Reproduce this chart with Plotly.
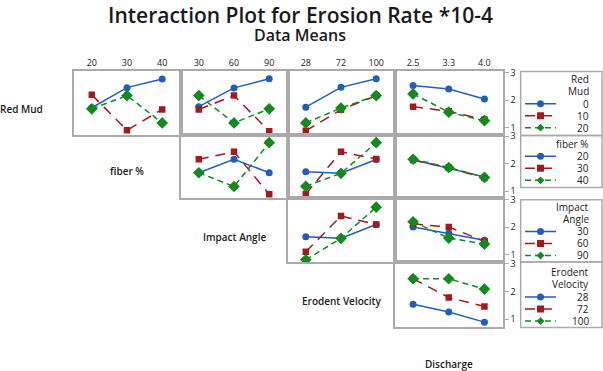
import plotly.graph_objects as go

W, H = 603, 371

# --- factors and levels ---
factors = ['Red Mud', 'fiber %', 'Impact Angle', 'Erodent Velocity', 'Discharge']
legend_titles = [['Red', 'Mud'], ['fiber %'], ['Impact', 'Angle'], ['Erodent', 'Velocity']]
redmud_levels = ['0', '10', '20']
fiber_levels = ['20', '30', '40']
angle_levels = ['30', '60', '90']
velocity_levels = ['28', '72', '100']
discharge_levels = ['2.5', '3.3', '4.0']

# --- means (one list per trace level, values along x factor levels) ---
rm_vs_fiber = [[1.72, 2.45, 2.76], [2.19, 0.90, 1.66], [1.68, 2.16, 1.17]]
rm_vs_angle = [[1.76, 2.44, 2.77], [1.66, 2.16, 0.87], [2.16, 1.17, 1.68]]
rm_vs_velocity = [[1.74, 2.46, 2.77], [0.88, 1.65, 2.16], [1.17, 1.71, 2.16]]
rm_vs_discharge = [[2.53, 2.40, 2.04], [1.76, 1.59, 1.29], [2.22, 1.56, 1.25]]
fiber_vs_angle = [[1.67, 2.16, 1.67], [2.16, 2.43, 0.89], [1.67, 1.17, 2.76]]
fiber_vs_velocity = [[1.71, 1.65, 2.15], [0.90, 2.43, 2.17], [1.18, 1.65, 2.76]]
fiber_vs_discharge = [[2.14, 1.83, 1.52], [2.13, 1.85, 1.48], [2.16, 1.86, 1.50]]
angle_vs_velocity = [[1.66, 1.60, 2.10], [1.11, 2.41, 2.10], [0.82, 1.60, 2.73]]
angle_vs_discharge = [[2.01, 1.78, 1.53], [2.12, 2.01, 1.49], [2.20, 1.61, 1.39]]
velocity_vs_discharge = [[1.54, 1.26, 0.90], [2.45, 1.78, 1.46], [2.45, 2.45, 2.08]]

yticks = [1, 2, 3]

row_levels = [redmud_levels, fiber_levels, angle_levels, velocity_levels]
col_levels = [fiber_levels, angle_levels, velocity_levels, discharge_levels]
panels = {
    (0, 0): rm_vs_fiber, (0, 1): rm_vs_angle, (0, 2): rm_vs_velocity, (0, 3): rm_vs_discharge,
    (1, 1): fiber_vs_angle, (1, 2): fiber_vs_velocity, (1, 3): fiber_vs_discharge,
    (2, 2): angle_vs_velocity, (2, 3): angle_vs_discharge,
    (3, 3): velocity_vs_discharge,
}

# --- style ---
FONT = 'Open Sans'
TXT = '#1a1a1a'
FRAME = '#aaaaaa'
STYLES = [
    dict(color='#1f5fb8', dash='solid', symbol='circle', size=7, lsize=7),
    dict(color='#a01a1e', dash='10px,7px', symbol='square', size=6.5, lsize=7),
    dict(color='#14891e', dash='6px,4px', symbol='diamond', size=9, lsize=6),
]

# pixel layout
col_edges = [73.5, 180.5, 287.5, 394.5, 503]
row_edges = [67, 131.5, 196, 260.5, 326]
legend_boxes = [(67.3, 132.3, 100), (132.3, 185, 153.3), (197.3, 260.5, 229.5), (260.5, 327, 296)]
leg_x0, leg_x1 = 520.7, 602
leg_step = 12.2


def fx(p):
    return p / W


def fy(p):
    return 1 - p / H


fig = go.Figure()
layout = {}
k = 0
for (r, c), means in panels.items():
    k += 1
    xa, ya = ('x', 'y') if k == 1 else (f'x{k}', f'y{k}')
    for i, lvl in enumerate(row_levels[r]):
        s = STYLES[i]
        fig.add_trace(go.Scatter(
            x=col_levels[c], y=means[i], xaxis=xa, yaxis=ya, mode='lines+markers',
            line=dict(color=s['color'], width=1.5, dash=s['dash']),
            marker=dict(color=s['color'], symbol=s['symbol'], size=s['size']),
            showlegend=False, hoverinfo='x+y'))
    layout['xaxis' if k == 1 else f'xaxis{k}'] = dict(
        domain=[fx(col_edges[c]), fx(col_edges[c + 1])], anchor=ya,
        type='category', range=[-0.52, 2.52], showline=True, mirror=True,
        linecolor=FRAME, linewidth=1.5, showgrid=False, zeroline=False,
        side='top', showticklabels=(r == 0), ticks='',
        tickfont=dict(family=FONT, size=9, color=TXT), fixedrange=True)
    layout['yaxis' if k == 1 else f'yaxis{k}'] = dict(
        domain=[fy(row_edges[r + 1]), fy(row_edges[r])], anchor=xa,
        range=[0.74, 3.05], showline=True, mirror=True, linecolor=FRAME,
        linewidth=1.5, showgrid=False, zeroline=False, side='right',
        tickvals=yticks, showticklabels=(c == 3),
        ticks='outside' if c == 3 else '', ticklen=4, tickcolor=FRAME,
        tickfont=dict(family=FONT, size=9, color=TXT), fixedrange=True)

annotations = []
shapes = []

# legend boxes, drawn from the level lists
for b, (top, bot, first) in enumerate(legend_boxes):
    k += 1
    xa, ya = f'x{k}', f'y{k}'
    x_lo = -(525 - leg_x0) / 31
    x_hi = (leg_x1 - 525) / 31
    y_top = (top - first) / leg_step
    y_bot = (bot - first) / leg_step
    layout[f'xaxis{k}'] = dict(domain=[fx(leg_x0), fx(leg_x1)], anchor=ya,
                               range=[x_lo, x_hi], visible=False, fixedrange=True)
    layout[f'yaxis{k}'] = dict(domain=[fy(bot), fy(top)], anchor=xa,
                               range=[y_bot, y_top], visible=False, fixedrange=True)
    shapes.append(dict(type='rect', xref='paper', yref='paper',
                       x0=fx(leg_x0), x1=fx(leg_x1), y0=fy(bot), y1=fy(top),
                       line=dict(color=FRAME, width=1.5)))
    for i, lvl in enumerate(row_levels[b]):
        s = STYLES[i]
        fig.add_trace(go.Scatter(
            x=[0, 1], y=[i, i], xaxis=xa, yaxis=ya, mode='lines',
            line=dict(color=s['color'], width=1.5, dash=s['dash'] if i else 'solid'),
            showlegend=False, hoverinfo='skip'))
        fig.add_trace(go.Scatter(
            x=[0.5], y=[i], xaxis=xa, yaxis=ya, mode='markers',
            marker=dict(color=s['color'], symbol=s['symbol'], size=s['lsize']),
            showlegend=False, hoverinfo='skip'))
        annotations.append(dict(text=lvl, xref='paper', yref=ya, x=fx(591), y=i,
                                xanchor='right', yanchor='middle', showarrow=False,
                                font=dict(family=FONT, size=10, color=TXT)))
    lines = legend_titles[b]
    for j, word in enumerate(lines):
        # title lines sit one or two rows above the first entry
        annotations.append(dict(text=word, xref='paper', yref=ya, x=fx(591),
                                y=j - len(lines) - 0.05, xanchor='right', yanchor='middle',
                                showarrow=False,
                                font=dict(family=FONT, size=10, color=TXT)))

# diagonal factor labels
label_pos = [(21, 105), (126.5, 168), (234, 235), (341.5, 300), (449, 364)]
for name, (lx, ly) in zip(factors, label_pos):
    annotations.append(dict(text=name, xref='paper', yref='paper', x=fx(lx), y=fy(ly),
                            xanchor='center', yanchor='middle', showarrow=False,
                            font=dict(family=FONT, size=10, color=TXT, weight=600)))

annotations.append(dict(text='Interaction Plot for Erosion Rate *10-4', xref='paper',
                        yref='paper', x=fx(300), y=fy(10), xanchor='center',
                        yanchor='middle', showarrow=False,
                        font=dict(family=FONT, size=21, color=TXT, weight=600)))
annotations.append(dict(text='Data Means', xref='paper', yref='paper', x=fx(300),
                        y=fy(30), xanchor='center', yanchor='middle', showarrow=False,
                        font=dict(family=FONT, size=16, color=TXT, weight=600)))

fig.update_layout(
    width=W, height=H, margin=dict(l=0, r=0, t=0, b=0),
    paper_bgcolor='white', plot_bgcolor='white',
    showlegend=False, annotations=annotations, shapes=shapes,
    dragmode=False, **layout)

fig.write_html('out.html', config={'displayModeBar': False},
               post_script="document.body.style.margin='0';")
